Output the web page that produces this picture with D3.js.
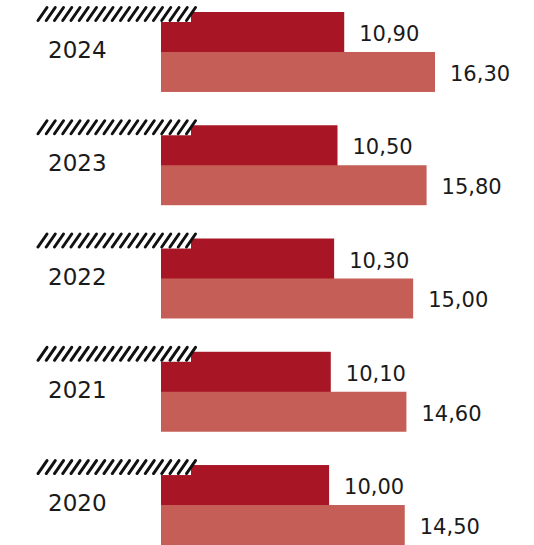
<!DOCTYPE html>
<html>
<head>
<meta charset="utf-8">
<script src="https://cdn.jsdelivr.net/npm/d3@7"></script>
<style>
  html, body { margin: 0; padding: 0; background: #fff; }
  svg { display: block; }
  text { font-family: "DejaVu Sans", "Liberation Sans", Arial, sans-serif; fill: #1a1a1a; }
</style>
</head>
<body>
<svg id="chart" width="534" height="545"></svg>
<script>
// Years, top to bottom
const years = ["2024", "2023", "2022", "2021", "2020"];
// First series (dark red) and second series (light red)
const seriesA = [10.9, 10.5, 10.3, 10.1, 10.0];
const seriesB = [16.3, 15.8, 15.0, 14.6, 14.5];
const seriesKeys = ["a", "b"];

const fmt = v => d3.format(".2f")(v).replace(".", ",");

const rows = years.map((y, i) => ({ year: y, a: seriesA[i], b: seriesB[i] }));

const svg = d3.select("#chart");
const W = 534, H = 545;
const left = 161;

const x = d3.scaleLinear().domain([0, d3.max(seriesB)]).range([left, 435]);
const y = d3.scaleBand().domain(years).range([12, H]).paddingInner(0.294).paddingOuter(0);
const sub = d3.scaleBand().domain(seriesKeys).range([0, y.bandwidth()]);
const colors = { a: "#a81626", b: "#c45e57" };

const g = svg.selectAll("g.year").data(rows).join("g")
  .attr("class", "year")
  .attr("transform", d => `translate(0,${y(d.year)})`);

// Bars
g.selectAll("rect.bar")
  .data(d => seriesKeys.map(k => ({ key: k, value: d[k] })))
  .join("rect")
  .attr("class", "bar")
  .attr("x", x(0))
  .attr("y", d => sub(d.key))
  .attr("width", d => x(d.value) - x(0))
  .attr("height", d => sub.bandwidth() + (d.key === "a" ? 1 : 0))
  .attr("fill", d => colors[d.key]);

// Value labels
g.selectAll("text.val")
  .data(d => seriesKeys.map(k => ({ key: k, value: d[k] })))
  .join("text")
  .attr("class", "val")
  .attr("x", d => x(d.value) + 15)
  .attr("y", d => sub(d.key) + sub.bandwidth() / 2 + 9)
  .attr("font-size", 21)
  .text(d => fmt(d.value));

// Hatched band above each group
const hatchTop = -6, hatchBottom = 10, hatchX0 = 37, hatchX1 = 191;
g.append("rect")
  .attr("x", hatchX0)
  .attr("y", hatchTop)
  .attr("width", hatchX1 - hatchX0)
  .attr("height", hatchBottom - hatchTop)
  .attr("fill", "#fff");
g.selectAll("line.hatch")
  .data(d3.range(hatchX0 + 1, hatchX1 - 3, 8.25))
  .join("line")
  .attr("class", "hatch")
  .attr("x1", d => d)
  .attr("y1", hatchBottom - 1.5)
  .attr("x2", d => d + 9)
  .attr("y2", hatchTop + 1.5)
  .attr("stroke", "#111")
  .attr("stroke-width", 3)
  .attr("stroke-linecap", "round");

// Year labels
g.append("text")
  .attr("x", 48)
  .attr("y", 46)
  .attr("font-size", 23)
  .text(d => d.year);
</script>
</body>
</html>
